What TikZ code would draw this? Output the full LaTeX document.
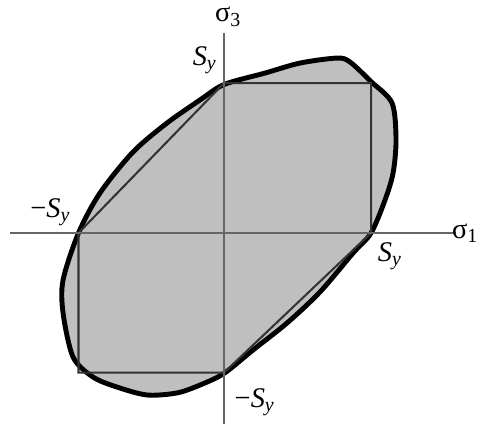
\documentclass[tikz,border=0pt]{standalone}
\usepackage{fontspec}
\setmainfont{Liberation Serif}
\usepackage{tikz}

\newcommand{\Sy}{\textit{S}\textsubscript{\textit{y}}}

\begin{document}
\begin{tikzpicture}[x=2cm, y=2cm, every node/.style={font=\fontsize{11}{13}\selectfont, inner sep=1pt}]
  \useasboundingbox (-1.524,-1.293) rectangle (1.748,1.585);

  % Corners of the hexagon
  \coordinate (pa) at (1,0);
  \coordinate (pb) at (1,1.02);
  \coordinate (pc) at (0,1.02);
  \coordinate (pd) at (-0.99,0);
  \coordinate (pe) at (-0.99,-0.95);
  \coordinate (pf) at (0,-0.95);

  % Ends of the axes
  \coordinate (xl) at (-1.456,0);
  \coordinate (xr) at (1.58,0);
  \coordinate (yt) at (0,1.361);
  \coordinate (yb) at (0,-1.30);

  % Ellipse (filled)
  \draw[line width=1.9pt, line join=round, fill=black!25] plot[smooth cycle, tension=0.5] coordinates {
    (1,0) (1.095,0.224) (1.150,0.408) (1.170,0.633) (1.143,0.884) (1,1.03)
    (0.857,1.163) (0.769,1.19) (0.517,1.156) (0.279,1.088) (0,1.01)
    (-0.163,0.905) (-0.388,0.748) (-0.619,0.551) (-0.844,0.272) (-0.99,0)
    (-1.095,-0.32) (-1.095,-0.544) (-1.027,-0.844) (-0.891,-0.98) (-0.728,-1.048)
    (-0.524,-1.102) (-0.32,-1.088) (-0.163,-1.034) (0,-0.955)
    (0.197,-0.796) (0.429,-0.612) (0.653,-0.401) (0.878,-0.136)};

  % Hexagon
  \draw[line width=0.8pt, black!80] (pa) -- (pb) -- (pc) -- (pd) -- (pe) -- (pf) -- cycle;

  % Axes
  \draw[line width=0.6pt, black!60] (xl) -- (xr);
  \draw[line width=0.6pt, black!60] (yt) -- (yb);

  % Labels
  \node[anchor=east, inner sep=0pt] (s1) at (1.735,0) {σ\textsubscript{1}};
  \node (s3) at (0.03,1.47) {σ\textsubscript{3}};
  \node (lt) at (-0.13,1.177) {\Sy};
  \node (lr) at (1.13,-0.156) {\Sy};
  \node (ll) at (-1.18,0.143) {−\Sy};
  \node (lb) at (0.21,-1.15) {−\Sy};
\end{tikzpicture}
\end{document}
